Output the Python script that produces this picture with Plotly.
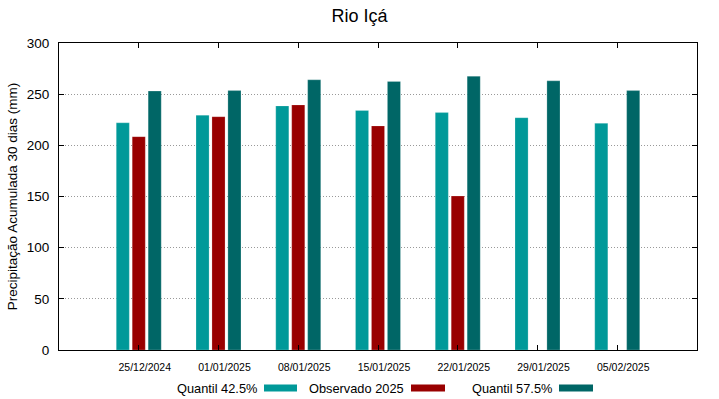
import plotly.graph_objects as go

datas = ["25/12/2024", "01/01/2025", "08/01/2025", "15/01/2025", "22/01/2025", "29/01/2025", "05/02/2025"]
quantil_425 = [222, 229.5, 238.5, 234, 232, 227, 221.5]
observado_2025 = [208.5, 228, 239.5, 219, 150.5, None, None]
quantil_575 = [253, 253.5, 264, 262.5, 267.5, 263, 253.5]

series_names = ["Quantil 42.5%", "Observado 2025", "Quantil 57.5%"]
series_colors = ["#009999", "#990000", "#006666"]
series_values = [quantil_425, observado_2025, quantil_575]

FONT = "Liberation Sans, Arial, sans-serif"
idx = list(range(len(datas)))

fig = go.Figure()
for name, vals, col in zip(series_names, series_values, series_colors):
    fig.add_trace(go.Bar(
        x=idx, y=vals, name=name,
        marker=dict(color=col, line=dict(color="rgba(255,255,255,0.35)", width=0.6)),
        showlegend=False,
    ))

L, R, T, B = 59, 22, 43, 49
W, H = 719, 399
plot_w = W - L - R
plot_h = H - T - B

fig.update_layout(
    width=W, height=H,
    margin=dict(l=L, r=R, t=T, b=B, autoexpand=False),
    paper_bgcolor="white", plot_bgcolor="white",
    barmode="group", bargap=0.4, bargroupgap=0.18,
    font=dict(family=FONT, color="black"),
    title=dict(text="Rio Içá", x=0.5, xanchor="center", y=1 - 16 / H, yanchor="middle",
               font=dict(size=18, family=FONT, color="black")),
)

fig.update_xaxes(
    range=[-1, len(datas)], tickmode="array", tickvals=idx, ticktext=datas,
    tickfont=dict(size=10.5, family=FONT), ticks="inside", ticklen=5, tickcolor="black",
    ticklabelshift=6, ticklabelstandoff=7,
    showline=True, linecolor="black", linewidth=1, mirror="allticks",
    showgrid=False, zeroline=False,
)
fig.update_yaxes(
    range=[0, 300], tickvals=[0, 50, 100, 150, 200, 250, 300],
    tickfont=dict(size=13.5, family=FONT), ticks="inside", ticklen=5, tickcolor="black",
    ticklabelstandoff=6,
    showline=True, linecolor="black", linewidth=1, mirror="allticks",
    showgrid=True, gridcolor="#999999", griddash="1px,2px", gridwidth=1, zeroline=False,
    title=dict(text="Precipitação Acumulada 30 dias (mm)", font=dict(size=13.5, family=FONT), standoff=6),
)

# custom legend (text followed by swatch), in paper coordinates
legend_text_x = [177, 309, 472]
swatches = [(264, 297), (411, 445), (559, 593)]
leg_y = -(388 - (H - B)) / plot_h
for tx, name in zip(legend_text_x, series_names):
    fig.add_annotation(xref="paper", yref="paper", x=(tx - L) / plot_w, y=leg_y,
                       text=name, showarrow=False, xanchor="left", yanchor="middle",
                       xshift=-2, font=dict(size=12.8, family=FONT, color="black"))
for (x0, x1), col in zip(swatches, series_colors):
    fig.add_shape(type="rect", xref="paper", yref="paper",
                  x0=(x0 - L) / plot_w, x1=(x1 - L) / plot_w,
                  y0=leg_y + 3.5 / plot_h, y1=leg_y - 3.5 / plot_h, fillcolor=col, line=dict(width=0))

fig.write_html("out.html", config={"displayModeBar": False},
               post_script="document.body.style.margin='0';document.body.style.padding='0';")
